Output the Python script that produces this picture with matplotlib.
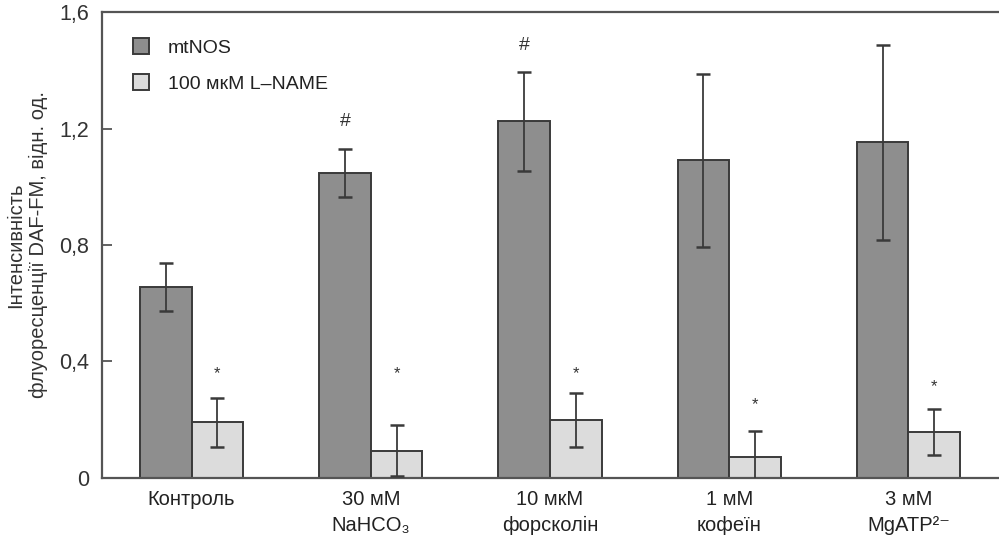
import matplotlib
matplotlib.use("Agg")
import matplotlib.pyplot as plt
import numpy as np
from matplotlib.patches import Patch

categories = ["Контроль", "30 мМ\nNaHCO₃", "10 мкМ\nфорсколін", "1 мМ\nкофеїн", "3 мМ\nMgATP²⁻"]
mtnos = [0.654, 1.046, 1.225, 1.091, 1.152]
mtnos_err = [0.083, 0.083, 0.170, 0.298, 0.335]
lname = [0.190, 0.092, 0.198, 0.071, 0.157]
lname_err = [0.085, 0.088, 0.092, 0.090, 0.080]
star_y = [0.356, 0.356, 0.356, 0.249, 0.312]
hash_idx = [1, 2]
hash_y = [1.225, 1.486]
yticks = [0, 0.4, 0.8, 1.2, 1.6]
ytick_labels = ["0", "0,4", "0,8", "1,2", "1,6"]
series_names = ["mtNOS", "100 мкМ L–NAME"]

plt.rcParams['font.family'] = ['Liberation Sans', 'DejaVu Sans']

fig = plt.figure(figsize=(9.99, 5.43), dpi=100)
ax = fig.add_axes([0.102, 0.1206, 0.898, 0.857])

x = np.arange(len(categories))
w = 0.288
dark = "#8e8e8e"
light = "#dcdcdc"
edge = "#3a3a3a"

ax.bar(x - w / 2, mtnos, w, color=dark, edgecolor=edge, linewidth=1.4, zorder=2)
ax.bar(x + w / 2, lname, w, color=light, edgecolor=edge, linewidth=1.4, zorder=2)
ax.errorbar(x - w / 2, mtnos, yerr=mtnos_err, fmt='none', ecolor="#3a3a3a",
            elinewidth=1.3, capsize=5, capthick=1.8, zorder=3)
ax.errorbar(x + w / 2, lname, yerr=lname_err, fmt='none', ecolor="#3a3a3a",
            elinewidth=1.3, capsize=5, capthick=1.8, zorder=3)

for xi, sy in zip(x, star_y):
    ax.text(xi + w / 2, sy, "*", ha='center', va='center', fontsize=12, color="#333333")
for hi, hy in zip(hash_idx, hash_y):
    ax.text(x[hi] - w / 2, hy, "#", ha='center', va='center', fontsize=14, color="#333333")

ax.set_xlim(-0.50, 4.505)
ax.set_ylim(0, 1.6)
ax.set_yticks(yticks)
ax.set_yticklabels(ytick_labels, fontsize=15.5, color="#333333")
ax.set_xticks(x)
ax.set_xticklabels(categories, fontsize=14.5, color="#222222", linespacing=1.45)
ax.tick_params(axis='x', length=0, pad=9)
ax.tick_params(axis='y', direction='in', length=7, width=1.3, color="#555555", pad=9)

for s in ['left', 'bottom', 'top']:
    ax.spines[s].set_color("#555555")
    ax.spines[s].set_linewidth(1.6)
ax.spines['right'].set_visible(False)

ax.set_ylabel("Інтенсивність\nфлуоресценції DAF-FM, відн. од.", fontsize=14.5,
              color="#333333", linespacing=1.25, labelpad=8)

handles = [Patch(facecolor=dark, edgecolor=edge, linewidth=1.4),
           Patch(facecolor=light, edgecolor=edge, linewidth=1.4)]
ax.legend(handles, series_names, loc='upper left', bbox_to_anchor=(0.0346, 0.944),
          borderpad=0, borderaxespad=0,
          frameon=False, fontsize=14, handlelength=0.85, handleheight=0.85,
          handletextpad=0.93, labelspacing=0.9, labelcolor="#222222")

fig.savefig("out.png", dpi=100)
